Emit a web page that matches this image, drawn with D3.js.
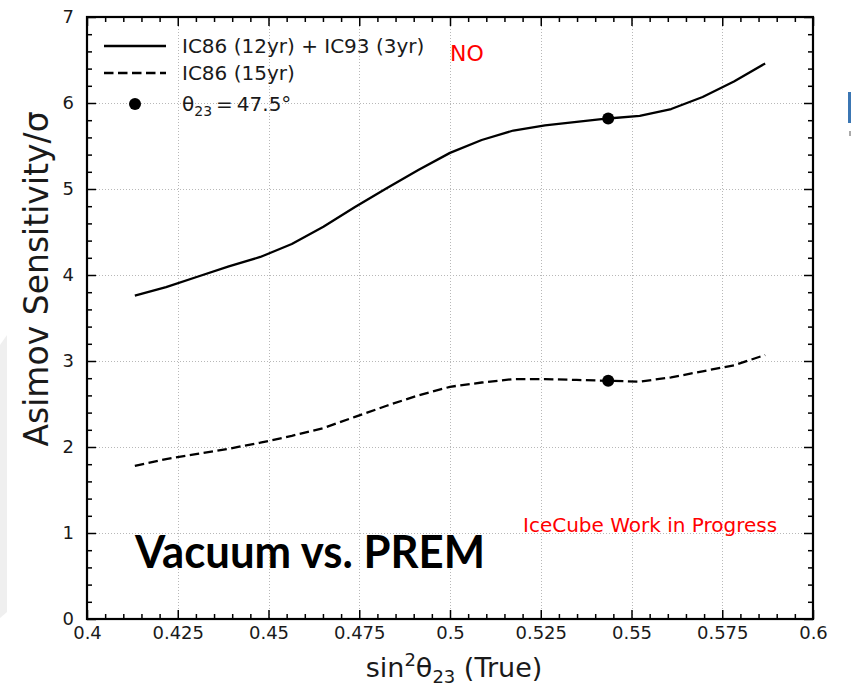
<!DOCTYPE html>
<html>
<head>
<meta charset="utf-8">
<script src="https://cdn.jsdelivr.net/npm/d3@7"></script>
<style>
  body { margin: 0; background: #fff; }
  svg { display: block; font-family: "DejaVu Sans", sans-serif; }
</style>
</head>
<body>
<svg id="chart" width="851" height="690"></svg>
<script>
// sin^2(theta23) grid: theta23 = 40.0° ... 50.0° in 0.5° steps
const sin2Theta = [0.41318, 0.42178, 0.43041, 0.43907, 0.44774, 0.45642, 0.46512,
  0.47383, 0.48255, 0.49127, 0.50000, 0.50873, 0.51745, 0.52617, 0.53488,
  0.54358, 0.55226, 0.56093, 0.56959, 0.57822, 0.58682];

// Asimov sensitivity (sigma), IC86 (12yr) + IC93 (3yr)
const sensCombined = [3.76, 3.86, 3.98, 4.10, 4.21, 4.36, 4.56, 4.79, 5.01, 5.22,
  5.42, 5.57, 5.68, 5.74, 5.78, 5.82, 5.85, 5.93, 6.07, 6.25, 6.46];

// Asimov sensitivity (sigma), IC86 (15yr)
const sensIC86 = [1.78, 1.86, 1.92, 1.98, 2.05, 2.13, 2.22, 2.35, 2.48, 2.60,
  2.70, 2.75, 2.79, 2.79, 2.78, 2.77, 2.76, 2.81, 2.88, 2.95, 3.07];

// Highlighted point: theta23 = 47.5°
const markerX = 0.54358;
const markerValues = [5.82, 2.77];

const xTicks = [0.4, 0.425, 0.45, 0.475, 0.5, 0.525, 0.55, 0.575, 0.6];
const xTickLabels = ["0.4", "0.425", "0.45", "0.475", "0.5", "0.525", "0.55", "0.575", "0.6"];
const yTicks = [0, 1, 2, 3, 4, 5, 6, 7];
const yTickLabels = ["0", "1", "2", "3", "4", "5", "6", "7"];

const svg = d3.select("#chart");
const W = 851, H = 690;
const m = { left: 87, right: 813, top: 17, bottom: 619 };

svg.append("rect").attr("width", W).attr("height", H).attr("fill", "#fff");

// slide edge decorations
svg.append("path")
  .attr("d", "M0,345 L7,335 L7,612 L0,618 Z")
  .attr("fill", "#efefef");
svg.append("rect").attr("x", 848).attr("y", 92).attr("width", 3).attr("height", 31).attr("fill", "#3b76b3");
svg.append("rect").attr("x", 849).attr("y", 131).attr("width", 2).attr("height", 5).attr("fill", "#aaa");

const x = d3.scaleLinear().domain([0.4, 0.6]).range([m.left, m.right]);
const y = d3.scaleLinear().domain([0, 7]).range([m.bottom, m.top]);

// dotted grid at major ticks
const grid = svg.append("g").attr("stroke", "#b8b8b8").attr("stroke-width", 1)
  .attr("stroke-dasharray", "1,2");
grid.selectAll("line.gx").data(xTicks.slice(1, -1)).join("line")
  .attr("x1", d => Math.round(x(d)) + 0.5).attr("x2", d => Math.round(x(d)) + 0.5)
  .attr("y1", m.top).attr("y2", m.bottom);
grid.selectAll("line.gy").data(yTicks.slice(1, -1)).join("line")
  .attr("y1", d => Math.round(y(d)) + 0.5).attr("y2", d => Math.round(y(d)) + 0.5)
  .attr("x1", m.left).attr("x2", m.right);

// minor tick positions
const xMinor = d3.range(0, 41).map(i => 0.4 + i * 0.005).filter(v => Math.abs((v - 0.4) / 0.025 - Math.round((v - 0.4) / 0.025)) > 1e-6);
const yMinor = d3.range(0, 36).map(i => i * 0.2).filter(v => Math.abs(v - Math.round(v)) > 1e-6);

function styleAxis(g, fontSize) {
  g.select(".domain").remove();
  g.selectAll(".tick line").attr("stroke", "#000").attr("stroke-width", 1.5);
  g.selectAll(".tick text").attr("fill", "#1a1a1a").style("font-size", fontSize + "px")
    .style("font-family", "'DejaVu Sans', sans-serif");
}

// bottom
svg.append("g").attr("transform", `translate(0,${m.bottom})`)
  .call(d3.axisBottom(x).tickValues(xTicks).tickSize(-9).tickPadding(7)
    .tickFormat((d, i) => xTickLabels[i]))
  .call(g => styleAxis(g, 18));
svg.append("g").attr("transform", `translate(0,${m.bottom})`)
  .call(d3.axisBottom(x).tickValues(xMinor).tickSize(-5).tickFormat(""))
  .call(g => styleAxis(g, 18));
// top
svg.append("g").attr("transform", `translate(0,${m.top})`)
  .call(d3.axisTop(x).tickValues(xTicks).tickSize(-9).tickFormat(""))
  .call(g => styleAxis(g, 18));
svg.append("g").attr("transform", `translate(0,${m.top})`)
  .call(d3.axisTop(x).tickValues(xMinor).tickSize(-5).tickFormat(""))
  .call(g => styleAxis(g, 18));
// left
svg.append("g").attr("transform", `translate(${m.left},0)`)
  .call(d3.axisLeft(y).tickValues(yTicks).tickSize(-9).tickPadding(13)
    .tickFormat((d, i) => yTickLabels[i]))
  .call(g => styleAxis(g, 18));
svg.append("g").attr("transform", `translate(${m.left},0)`)
  .call(d3.axisLeft(y).tickValues(yMinor).tickSize(-5).tickFormat(""))
  .call(g => styleAxis(g, 18));
// right
svg.append("g").attr("transform", `translate(${m.right},0)`)
  .call(d3.axisRight(y).tickValues(yTicks).tickSize(-9).tickFormat(""))
  .call(g => styleAxis(g, 18));
svg.append("g").attr("transform", `translate(${m.right},0)`)
  .call(d3.axisRight(y).tickValues(yMinor).tickSize(-5).tickFormat(""))
  .call(g => styleAxis(g, 18));

// frame
svg.append("rect").attr("x", m.left).attr("y", m.top)
  .attr("width", m.right - m.left).attr("height", m.bottom - m.top)
  .attr("fill", "none").attr("stroke", "#000").attr("stroke-width", 2.2);

// curves
const line = d3.line().x(d => x(d[0])).y(d => y(d[1]));
svg.append("path").datum(d3.zip(sin2Theta, sensCombined))
  .attr("d", line).attr("fill", "none").attr("stroke", "#000")
  .attr("stroke-width", 2.3).attr("stroke-linejoin", "round");
svg.append("path").datum(d3.zip(sin2Theta, sensIC86))
  .attr("d", line).attr("fill", "none").attr("stroke", "#000")
  .attr("stroke-width", 2.3).attr("stroke-dasharray", "9.5,4.5");

svg.selectAll("circle.mk").data(markerValues).join("circle")
  .attr("cx", x(markerX)).attr("cy", d => y(d)).attr("r", 6).attr("fill", "#000");

// legend
const lg = svg.append("g");
lg.append("line").attr("x1", 104).attr("x2", 166).attr("y1", 46).attr("y2", 46)
  .attr("stroke", "#000").attr("stroke-width", 2.3);
lg.append("line").attr("x1", 104).attr("x2", 166).attr("y1", 73).attr("y2", 73)
  .attr("stroke", "#000").attr("stroke-width", 2.3).attr("stroke-dasharray", "9.5,4.5");
lg.append("circle").attr("cx", 135).attr("cy", 104).attr("r", 6).attr("fill", "#000");
lg.append("text").attr("x", 182).attr("y", 53).style("font-size", "20px").attr("fill", "#1a1a1a")
  .text("IC86 (12yr) + IC93 (3yr)");
lg.append("text").attr("x", 182).attr("y", 80).style("font-size", "20px").attr("fill", "#1a1a1a")
  .text("IC86 (15yr)");
const t3 = lg.append("text").attr("x", 182).attr("y", 111).style("font-size", "20px").attr("fill", "#1a1a1a");
t3.append("tspan").text("θ");
t3.append("tspan").attr("dy", 5).style("font-size", "14px").text("23");
t3.append("tspan").attr("dy", -5).text("\u2009=\u200947.5°");

// annotations
svg.append("text").attr("x", 450).attr("y", 61).attr("fill", "#ff0000")
  .style("font-size", "22px").text("NO");
svg.append("text").attr("x", 523).attr("y", 532).attr("fill", "#ff0000")
  .style("font-size", "20px").text("IceCube Work in Progress");
svg.append("text").attr("x", 135).attr("y", 568).attr("fill", "#000")
  .style("font-family", "Lato, 'Open Sans', sans-serif").style("font-weight", "700")
  .style("font-size", "46px").attr("textLength", 350).attr("lengthAdjust", "spacingAndGlyphs")
  .text("Vacuum vs. PREM");

// axis titles
const xt = svg.append("text").attr("x", (m.left + m.right) / 2 + 4).attr("y", 677)
  .attr("text-anchor", "middle").attr("fill", "#1a1a1a").style("font-size", "27px");
xt.append("tspan").text("sin");
xt.append("tspan").attr("dy", -11).style("font-size", "18px").text("2");
xt.append("tspan").attr("dy", 11).text("θ");
xt.append("tspan").attr("dy", 6).style("font-size", "18px").text("23");
xt.append("tspan").attr("dy", -6).text(" (True)");

svg.append("text")
  .attr("transform", `translate(48,${(m.top + m.bottom) / 2 - 39}) rotate(-90)`)
  .attr("text-anchor", "middle").attr("fill", "#1a1a1a").style("font-size", "33px")
  .text("Asimov Sensitivity/σ");
</script>
</body>
</html>
